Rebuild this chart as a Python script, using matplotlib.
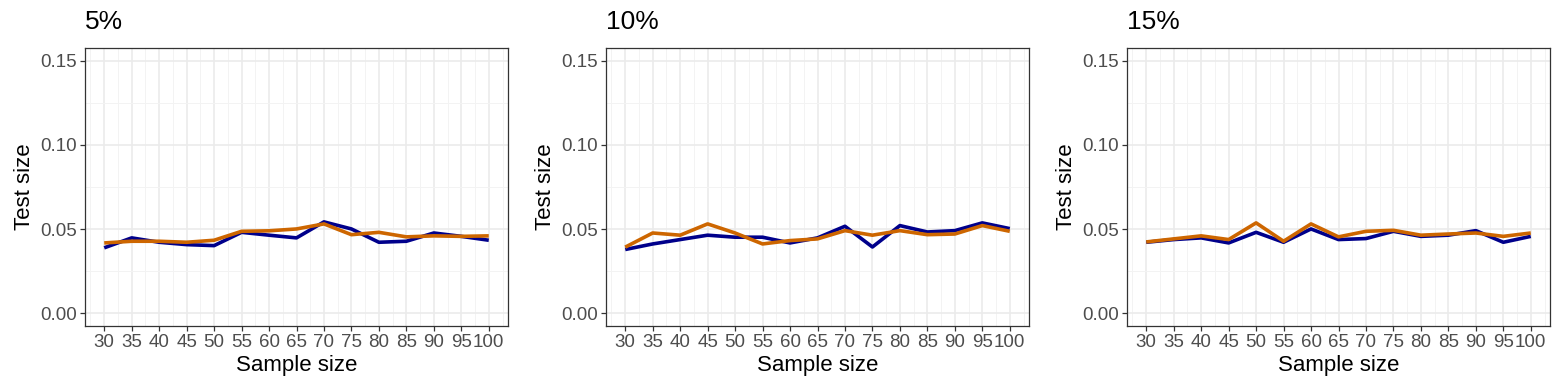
import matplotlib
matplotlib.use("Agg")
import matplotlib.pyplot as plt
from matplotlib.ticker import MultipleLocator

plt.rcParams['font.family'] = ['Liberation Sans', 'DejaVu Sans']

sample_size = [30, 35, 40, 45, 50, 55, 60, 65, 70, 75, 80, 85, 90, 95, 100]
titles = ["5%", "10%", "15%"]

blue_5 = [0.0389, 0.0448, 0.0422, 0.0408, 0.0402, 0.0481, 0.0464, 0.0448, 0.0543, 0.0501,
          0.0422, 0.0428, 0.0477, 0.0457, 0.0434]
orange_5 = [0.0418, 0.0428, 0.0428, 0.0422, 0.0434, 0.0487, 0.0490, 0.0501, 0.0531, 0.0467,
            0.0481, 0.0454, 0.0460, 0.0457, 0.0460]
blue_10 = [0.0379, 0.0412, 0.0438, 0.0464, 0.0452, 0.0452, 0.0418, 0.0448, 0.0517, 0.0394,
           0.0521, 0.0483, 0.0491, 0.0537, 0.0503]
orange_10 = [0.0393, 0.0477, 0.0464, 0.0531, 0.0477, 0.0412, 0.0432, 0.0442, 0.0491, 0.0464,
             0.0491, 0.0467, 0.0471, 0.0521, 0.0487]
blue_15 = [0.0422, 0.0438, 0.0448, 0.0418, 0.0481, 0.0422, 0.0501, 0.0438, 0.0444, 0.0487,
           0.0457, 0.0464, 0.0491, 0.0422, 0.0457]
orange_15 = [0.0424, 0.0442, 0.0460, 0.0438, 0.0537, 0.0428, 0.0531, 0.0454, 0.0487, 0.0493,
             0.0464, 0.0471, 0.0477, 0.0457, 0.0477]

blue_series = [blue_5, blue_10, blue_15]
orange_series = [orange_5, orange_10, orange_15]
y_ticks = [0.00, 0.05, 0.10, 0.15]

W, H = 1563, 392
fig = plt.figure(figsize=(W / 100, H / 100), dpi=100)

lefts = [85, 606, 1127]
pw = 423
top, bottom = 48, 326

for i in range(3):
    ax = fig.add_axes([lefts[i] / W, 1 - bottom / H, pw / W, (bottom - top) / H])
    ax.plot(sample_size, blue_series[i], color="#00008B", lw=2.6, solid_capstyle='butt', zorder=3)
    ax.plot(sample_size, orange_series[i], color="#CD6600", lw=2.6, solid_capstyle='butt', zorder=4)
    ax.set_xlim(26.5, 103.5)
    ax.set_ylim(-0.0075, 0.1575)
    ax.set_xticks(sample_size)
    ax.set_xticklabels([str(s) for s in sample_size])
    ax.xaxis.set_minor_locator(MultipleLocator(2.5))
    ax.set_yticks(y_ticks)
    ax.set_yticklabels([f"{v:.2f}" for v in y_ticks])
    ax.yaxis.set_minor_locator(MultipleLocator(0.025))
    ax.grid(which='major', color='#EBEBEB', lw=1.2, zorder=0)
    ax.grid(which='minor', color='#F3F3F3', lw=0.7, zorder=0)
    ax.set_axisbelow(True)
    for s in ax.spines.values():
        s.set_color('#333333')
        s.set_linewidth(0.9)
    ax.tick_params(which='major', length=3.5, width=0.9, color='#333333',
                   labelsize=13.5, labelcolor='#4D4D4D', pad=2)
    ax.tick_params(which='minor', length=0)
    ax.set_xlabel("Sample size", fontsize=16, labelpad=3)
    ax.set_ylabel("Test size", fontsize=16, labelpad=4)
    fig.text(lefts[i] / W, 1 - 22 / H, titles[i], fontsize=19, ha='left', va='center')

fig.savefig("out.png", dpi=100)
